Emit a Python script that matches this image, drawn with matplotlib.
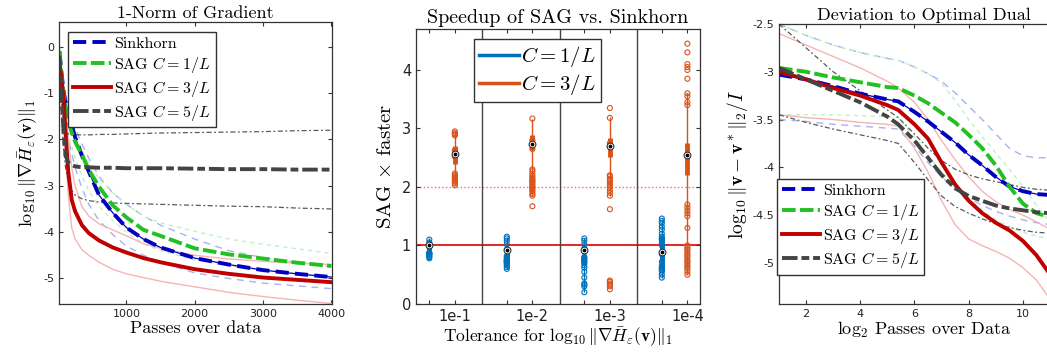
import numpy as np
import matplotlib
matplotlib.use("Agg")
import matplotlib.pyplot as plt

plt.rcParams['mathtext.fontset'] = 'cm'
plt.rcParams['axes.unicode_minus'] = False
SERIF = 'cmr10'

# ---------------- panel 1: 1-norm of gradient ----------------
passes = [20, 50, 80, 110, 150, 200, 250, 350, 450, 600, 800, 1000, 1250,
          1500, 2000, 2500, 3000, 3500, 4000]
sink_mid = [-0.1, -0.55, -0.95, -1.2, -1.45, -1.68, -1.95, -2.35, -2.69, -3.2,
            -3.58, -3.9, -4.15, -4.33, -4.56, -4.7, -4.82, -4.9, -4.97]
sink_hi = [0, -0.4, -0.8, -1.05, -1.3, -1.55, -1.75, -2.1, -2.4, -2.8, -3.15,
           -3.4, -3.65, -3.85, -4.15, -4.4, -4.55, -4.65, -4.75]
sink_lo = [-0.2, -0.8, -1.3, -1.6, -1.95, -2.3, -2.6, -3.05, -3.4, -3.75,
           -4.05, -4.3, -4.5, -4.65, -4.88, -5.0, -5.1, -5.16, -5.22]
sag1_mid = [-0.1, -0.6, -1.0, -1.3, -1.6, -1.85, -2.05, -2.33, -2.65, -3.02,
            -3.42, -3.68, -3.95, -4.08, -4.35, -4.48, -4.57, -4.66, -4.73]
sag1_hi = [0, -0.4, -0.8, -1.1, -1.4, -1.7, -1.9, -2.25, -2.5, -2.85, -3.15,
           -3.4, -3.66, -3.8, -3.98, -4.15, -4.26, -4.36, -4.46]
sag1_lo = [-0.2, -0.8, -1.3, -1.6, -1.9, -2.15, -2.4, -2.8, -3.1, -3.45, -3.75,
           -4.0, -4.25, -4.4, -4.6, -4.72, -4.82, -4.9, -4.97]
sag3_mid = [-0.3, -0.7, -1.1, -1.85, -2.7, -3.3, -3.55, -3.85, -4.02, -4.18,
            -4.33, -4.44, -4.56, -4.65, -4.8, -4.9, -4.98, -5.03, -5.08]
sag3_hi = [-0.1, -0.5, -0.9, -1.4, -2.0, -2.6, -3.0, -3.45, -3.65, -3.82,
           -3.95, -4.08, -4.25, -4.35, -4.5, -4.58, -4.63, -4.67, -4.7]
sag3_lo = [-0.5, -1.0, -1.5, -2.3, -3.2, -3.9, -4.15, -4.38, -4.5, -4.65,
           -4.8, -4.9, -4.98, -5.06, -5.18, -5.3, -5.39, -5.47, -5.54]
sag5_mid = [-0.2, -1.0, -1.8, -2.33, -2.5, -2.55, -2.58, -2.6, -2.6, -2.61,
            -2.61, -2.62, -2.62, -2.62, -2.63, -2.64, -2.64, -2.65, -2.65]
sag5_hi = [-0.3, -1.2, -1.7, -1.85, -1.88, -1.89, -1.9, -1.9, -1.9, -1.89,
           -1.89, -1.88, -1.87, -1.86, -1.85, -1.84, -1.83, -1.81, -1.8]
sag5_lo = [-0.5, -1.5, -2.2, -2.6, -2.9, -3.1, -3.2, -3.28, -3.32, -3.35,
           -3.37, -3.38, -3.39, -3.4, -3.42, -3.44, -3.45, -3.48, -3.5]
yt1 = [0, -1, -2, -3, -4, -5]
yt1_labels = ['0', '-1', '-2', '-3', '-4', '-5']
xt1 = [1000, 2000, 3000, 4000]

# ---------------- panel 2: speedup ----------------
tol_labels = ['1e-1', '1e-2', '1e-3', '1e-4']
pts_c1 = [
    [0.78, 0.80, 0.82, 0.84, 0.85, 0.86, 0.87, 0.88, 0.98, 1.0, 1.05, 1.1],
    [0.6, 0.63, 0.66, 0.68, 0.7, 0.71, 0.72, 0.73, 0.74, 0.75, 0.76, 0.78,
     0.8, 0.82, 0.93, 1.02, 1.08, 1.12, 1.15],
    [0.2, 0.3, 0.33, 0.35, 0.45, 0.55, 0.62, 0.66, 0.7, 0.72, 0.74, 0.76,
     0.78, 0.8, 0.9, 0.95, 1.02, 1.08, 1.12],
    [0.45, 0.5, 0.55, 0.58, 0.6, 0.62, 0.65, 0.72, 0.85, 1.0, 1.05, 1.1,
     1.12, 1.15, 1.2, 1.27, 1.32, 1.38, 1.42, 1.46],
]
pts_c3 = [
    [2.03, 2.06, 2.09, 2.12, 2.14, 2.16, 2.18, 2.2, 2.23, 2.52, 2.55, 2.6,
     2.63, 2.88, 2.9, 2.92, 2.95],
    [1.67, 1.85, 1.88, 1.92, 1.95, 1.98, 2.0, 2.02, 2.05, 2.08, 2.1, 2.12,
     2.15, 2.18, 2.22, 2.27, 2.3, 2.65, 2.72, 2.8, 3.17],
    [0.25, 0.3, 0.33, 0.35, 0.38, 0.4, 1.62, 1.85, 1.9, 1.95, 2.0, 2.03,
     2.06, 2.1, 2.14, 2.18, 2.2, 2.7, 2.75, 3.18, 3.35],
    [0.5, 0.55, 0.6, 0.63, 0.66, 0.7, 0.73, 0.76, 0.8, 0.83, 0.86, 0.9,
     0.93, 0.96, 1.0, 1.3, 1.5, 1.55, 1.6, 1.65, 1.7, 2.55, 3.4, 3.45, 3.55,
     3.6, 3.85, 4.0, 4.05, 4.1, 4.3, 4.45],
]
# box summaries: whisker low, q1, median, q3, whisker high
box_c1 = [(0.78, 0.84, 1.0, 1.02, 1.12), (0.6, 0.72, 0.93, 0.95, 1.15),
          (0.2, 0.66, 0.92, 0.85, 1.12), (0.45, 0.6, 0.88, 1.15, 1.46)]
box_c3 = [(2.03, 2.4, 2.57, 2.7, 2.95), (1.85, 2.63, 2.74, 2.89, 3.17),
          (1.85, 2.52, 2.7, 2.83, 3.2), (0.5, 2.2, 2.55, 2.75, 3.6)]

# ---------------- panel 3: deviation to optimal dual ----------------
lp = [1, 2, 3, 4, 5, 5.4, 6, 6.5, 7, 7.5, 8, 8.5, 9, 9.5, 10, 10.5, 11]
d_sink = [-3.03, -3.08, -3.15, -3.23, -3.29, -3.31, -3.42, -3.52, -3.63, -3.74,
          -3.87, -3.98, -4.1, -4.2, -4.25, -4.28, -4.29]
d_sink_hi = [-2.5, -2.62, -2.72, -2.8, -2.86, -2.88, -2.95, -3.02, -3.1, -3.22,
             -3.36, -3.5, -3.65, -3.8, -3.88, -3.9, -3.9]
d_sink_lo = [-3.5, -3.52, -3.55, -3.57, -3.59, -3.6, -3.78, -3.95, -4.1, -4.22,
             -4.32, -4.4, -4.46, -4.51, -4.55, -4.58, -4.6]
d_sag1 = [-2.96, -3.0, -3.06, -3.11, -3.16, -3.17, -3.25, -3.33, -3.43, -3.53,
          -3.66, -3.8, -3.98, -4.2, -4.38, -4.48, -4.52]
d_sag1_hi = [-2.5, -2.62, -2.72, -2.8, -2.86, -2.88, -2.95, -3.02, -3.12, -3.3,
             -3.5, -3.68, -3.85, -4.02, -4.2, -4.4, -4.58]
d_sag1_lo = [-3.45, -3.45, -3.45, -3.46, -3.47, -3.48, -3.68, -3.88, -4.05,
             -4.2, -4.33, -4.45, -4.55, -4.62, -4.68, -4.72, -4.75]
d_sag3 = [-3.0, -3.08, -3.17, -3.25, -3.35, -3.4, -3.55, -3.7, -3.95, -4.18,
          -4.35, -4.48, -4.58, -4.66, -4.77, -4.92, -5.12]
d_sag3_hi = [-2.6, -2.72, -2.84, -2.96, -3.1, -3.17, -3.32, -3.5, -3.72, -3.92,
             -4.1, -4.25, -4.36, -4.44, -4.5, -4.57, -4.65]
d_sag3_lo = [-3.45, -3.48, -3.5, -3.53, -3.55, -3.57, -3.8, -4.05, -4.35, -4.6,
             -4.75, -4.82, -4.88, -4.95, -5.05, -5.18, -5.38]
d_sag5 = [-2.96, -3.08, -3.2, -3.32, -3.47, -3.55, -3.72, -3.9, -4.08, -4.22,
          -4.3, -4.35, -4.4, -4.43, -4.45, -4.47, -4.48]
d_sag5_hi = [-2.5, -2.75, -3.0, -3.2, -3.4, -3.48, -3.65, -3.8, -3.93,
             -4.02, -4.08, -4.12, -4.15, -4.18, -4.21, -4.23, -4.24]
d_sag5_lo = [-3.45, -3.53, -3.6, -3.66, -3.72, -3.75, -3.95, -4.13, -4.3,
             -4.41, -4.48, -4.54, -4.59, -4.63, -4.66, -4.68, -4.69]
yt3 = [-2.5, -3, -3.5, -4, -4.5, -5]
yt3_labels = ['-2.5', '-3', '-3.5', '-4', '-4.5', '-5']
xt3 = [2, 4, 6, 8, 10]

names = ['Sinkhorn', r'SAG $C=1/L$', r'SAG $C=3/L$', r'SAG $C=5/L$']
colors = ['#0000c0', '#22c022', '#c00000', '#444444']
band_colors = ['#a8b2f2', '#bff2bf', '#f5b5b5', '#5a5a5a']
styles = [dict(dashes=(3.4, 1.6)), dict(dashes=(3.5, 1.1)),
          dict(linestyle='-'), dict(dashes=(4, 1, 2, 1))]
band_styles = [dict(dashes=(5, 4)), dict(dashes=(3, 3)), dict(linestyle='-'),
               dict(dashes=(4, 2, 1.5, 2))]


def style_axes(ax):
    ax.tick_params(direction='in', top=True, right=True, length=3,
                   labelsize=8, colors='#333333', labelcolor='#222222')
    for s in ax.spines.values():
        s.set_color('#333333')
        s.set_linewidth(0.9)


def curve_panel(ax, x, mids, bands):
    for (lo, hi), c, bs in zip(bands, band_colors, band_styles):
        lw = 0.9 if c == '#5a5a5a' else 1.0
        ax.plot(x, hi, color=c, lw=lw, **bs)
        ax.plot(x, lo, color=c, lw=lw, **bs)
    handles = []
    for i, (m, c, st, nm) in enumerate(zip(mids, colors, styles, names)):
        if i == 0:
            ax.plot(x, m, color=c, lw=0.9)
        h, = ax.plot(x, m, color=c, lw=2.8, label=nm, **st)
        handles.append(h)
    return handles


fig = plt.figure(figsize=(10.47, 3.58), dpi=100)

# panel 1
ax1 = fig.add_axes([0.0564, 0.151, 0.2607, 0.788])
h1 = curve_panel(ax1, passes, [sink_mid, sag1_mid, sag3_mid, sag5_mid],
                 [(sink_lo, sink_hi), (sag1_lo, sag1_hi), (sag3_lo, sag3_hi),
                  (sag5_lo, sag5_hi)])
ax1.set_xlim(15, 4010)
ax1.set_ylim(-5.55, 0.54)
ax1.set_xticks(xt1)
ax1.set_yticks(yt1)
ax1.set_yticklabels(yt1_labels)
style_axes(ax1)
ax1.set_title('1-Norm of Gradient', family=SERIF, fontsize=13, pad=3)
ax1.set_xlabel('Passes over data', family=SERIF, fontsize=13, labelpad=1)
ax1.set_ylabel(r'$\log_{10}\|\nabla\bar{H}_\varepsilon(\mathbf{v})\|_1$',
               fontsize=13, labelpad=2)
ax1.legend(handles=h1, loc='upper left', bbox_to_anchor=(0.033, 0.965),
           borderaxespad=0, fancybox=False, edgecolor='#333333',
           framealpha=1, prop=dict(family=SERIF, size=11.5),
           handlelength=2.4, handletextpad=0.2, borderpad=0.3,
           labelspacing=0.25)

# panel 2
ax2 = fig.add_axes([0.3973, 0.151, 0.2713, 0.768])
blue2, orange2 = '#0072BD', '#D95319'
grp = np.arange(1, len(tol_labels) + 1)
pos_c1 = grp - 0.18
pos_c3 = grp + 0.15
ax2.axhline(1, color='#e00000', lw=1.2, zorder=1)
ax2.axhline(2, color='#f07070', lw=1.0, ls=':', zorder=1)
for sep in grp[:-1] + 0.5:
    ax2.axvline(sep, color='#444444', lw=1.0, zorder=1)
for pos, pts, boxes, c in [(pos_c1, pts_c1, box_c1, blue2),
                           (pos_c3, pts_c3, box_c3, orange2)]:
    for p, vals, b in zip(pos, pts, boxes):
        wl, q1, md, q3, wh = b
        ax2.vlines(p, wl, wh, color=c, lw=1.0, zorder=2)
        ax2.vlines(p, min(q1, q3), max(q1, q3), color=c, lw=3.5, zorder=2)
        ax2.scatter(np.full(len(vals), p), vals, s=13, facecolors='none',
                    edgecolors=c, linewidths=0.8, zorder=3)
        ax2.scatter([p], [md], s=24, facecolors='white', edgecolors='#333333',
                    linewidths=0.8, zorder=4)
        ax2.scatter([p], [md], s=3, color='black', zorder=5)
ax2.set_xlim(0.648, 4.313)
ax2.set_ylim(0, 4.7)
ax2.set_xticks(np.sort(np.concatenate([pos_c1, pos_c3])))
ax2.set_xticklabels([lab for t in tol_labels for lab in ('', t)])
ax2.set_yticks([0, 1, 2, 3, 4])
style_axes(ax2)
ax2.tick_params(labelsize=10.5)
ax2.set_title('Speedup of SAG vs. Sinkhorn', family=SERIF, fontsize=14.5,
              pad=4)
ax2.set_xlabel(r'Tolerance for $\log_{10}\|\nabla\bar{H}_\varepsilon(\mathbf{v})\|_1$',
               family=SERIF, fontsize=12.5, labelpad=1)
ax2.set_ylabel(r'SAG $\times$ faster', family=SERIF, fontsize=15, labelpad=5)
lh = [plt.Line2D([], [], color=blue2, lw=2.5),
      plt.Line2D([], [], color=orange2, lw=2.5)]
ax2.legend(lh, [r'$C=1/L$', r'$C=3/L$'], loc='upper left',
           bbox_to_anchor=(0.204, 0.964), borderaxespad=0, fancybox=False,
           edgecolor='#333333', framealpha=1, fontsize=15, handlelength=1.9,
           handletextpad=0.1, borderpad=0.25, labelspacing=0.15)

# panel 3
ax3 = fig.add_axes([0.744, 0.151, 0.277, 0.782])
h3 = curve_panel(ax3, lp, [d_sink, d_sag1, d_sag3, d_sag5],
                 [(d_sink_lo, d_sink_hi), (d_sag1_lo, d_sag1_hi),
                  (d_sag3_lo, d_sag3_hi), (d_sag5_lo, d_sag5_hi)])
ax3.set_xlim(1, 1 + 290 / 27.1)
ax3.set_ylim(-5.43, -2.5)
ax3.set_xticks(xt3)
ax3.set_yticks(yt3)
ax3.set_yticklabels(yt3_labels)
style_axes(ax3)
ax3.set_title('Deviation to Optimal Dual', family=SERIF, fontsize=13, pad=3)
ax3.set_xlabel(r'$\mathrm{log}_2$ Passes over Data', family=SERIF,
               fontsize=13, labelpad=1)
ax3.set_ylabel(r'$\log_{10}\|\mathbf{v}-\mathbf{v}^*\|_2/I$', fontsize=14,
               labelpad=2)
ax3.legend(handles=h3, loc='lower left', bbox_to_anchor=(-0.007, 0.104),
           borderaxespad=0, fancybox=False, edgecolor='#333333',
           framealpha=1, prop=dict(family=SERIF, size=11.5),
           handlelength=2.4, handletextpad=0.2, borderpad=0.3,
           labelspacing=0.25)

fig.savefig('out.png', dpi=100)
